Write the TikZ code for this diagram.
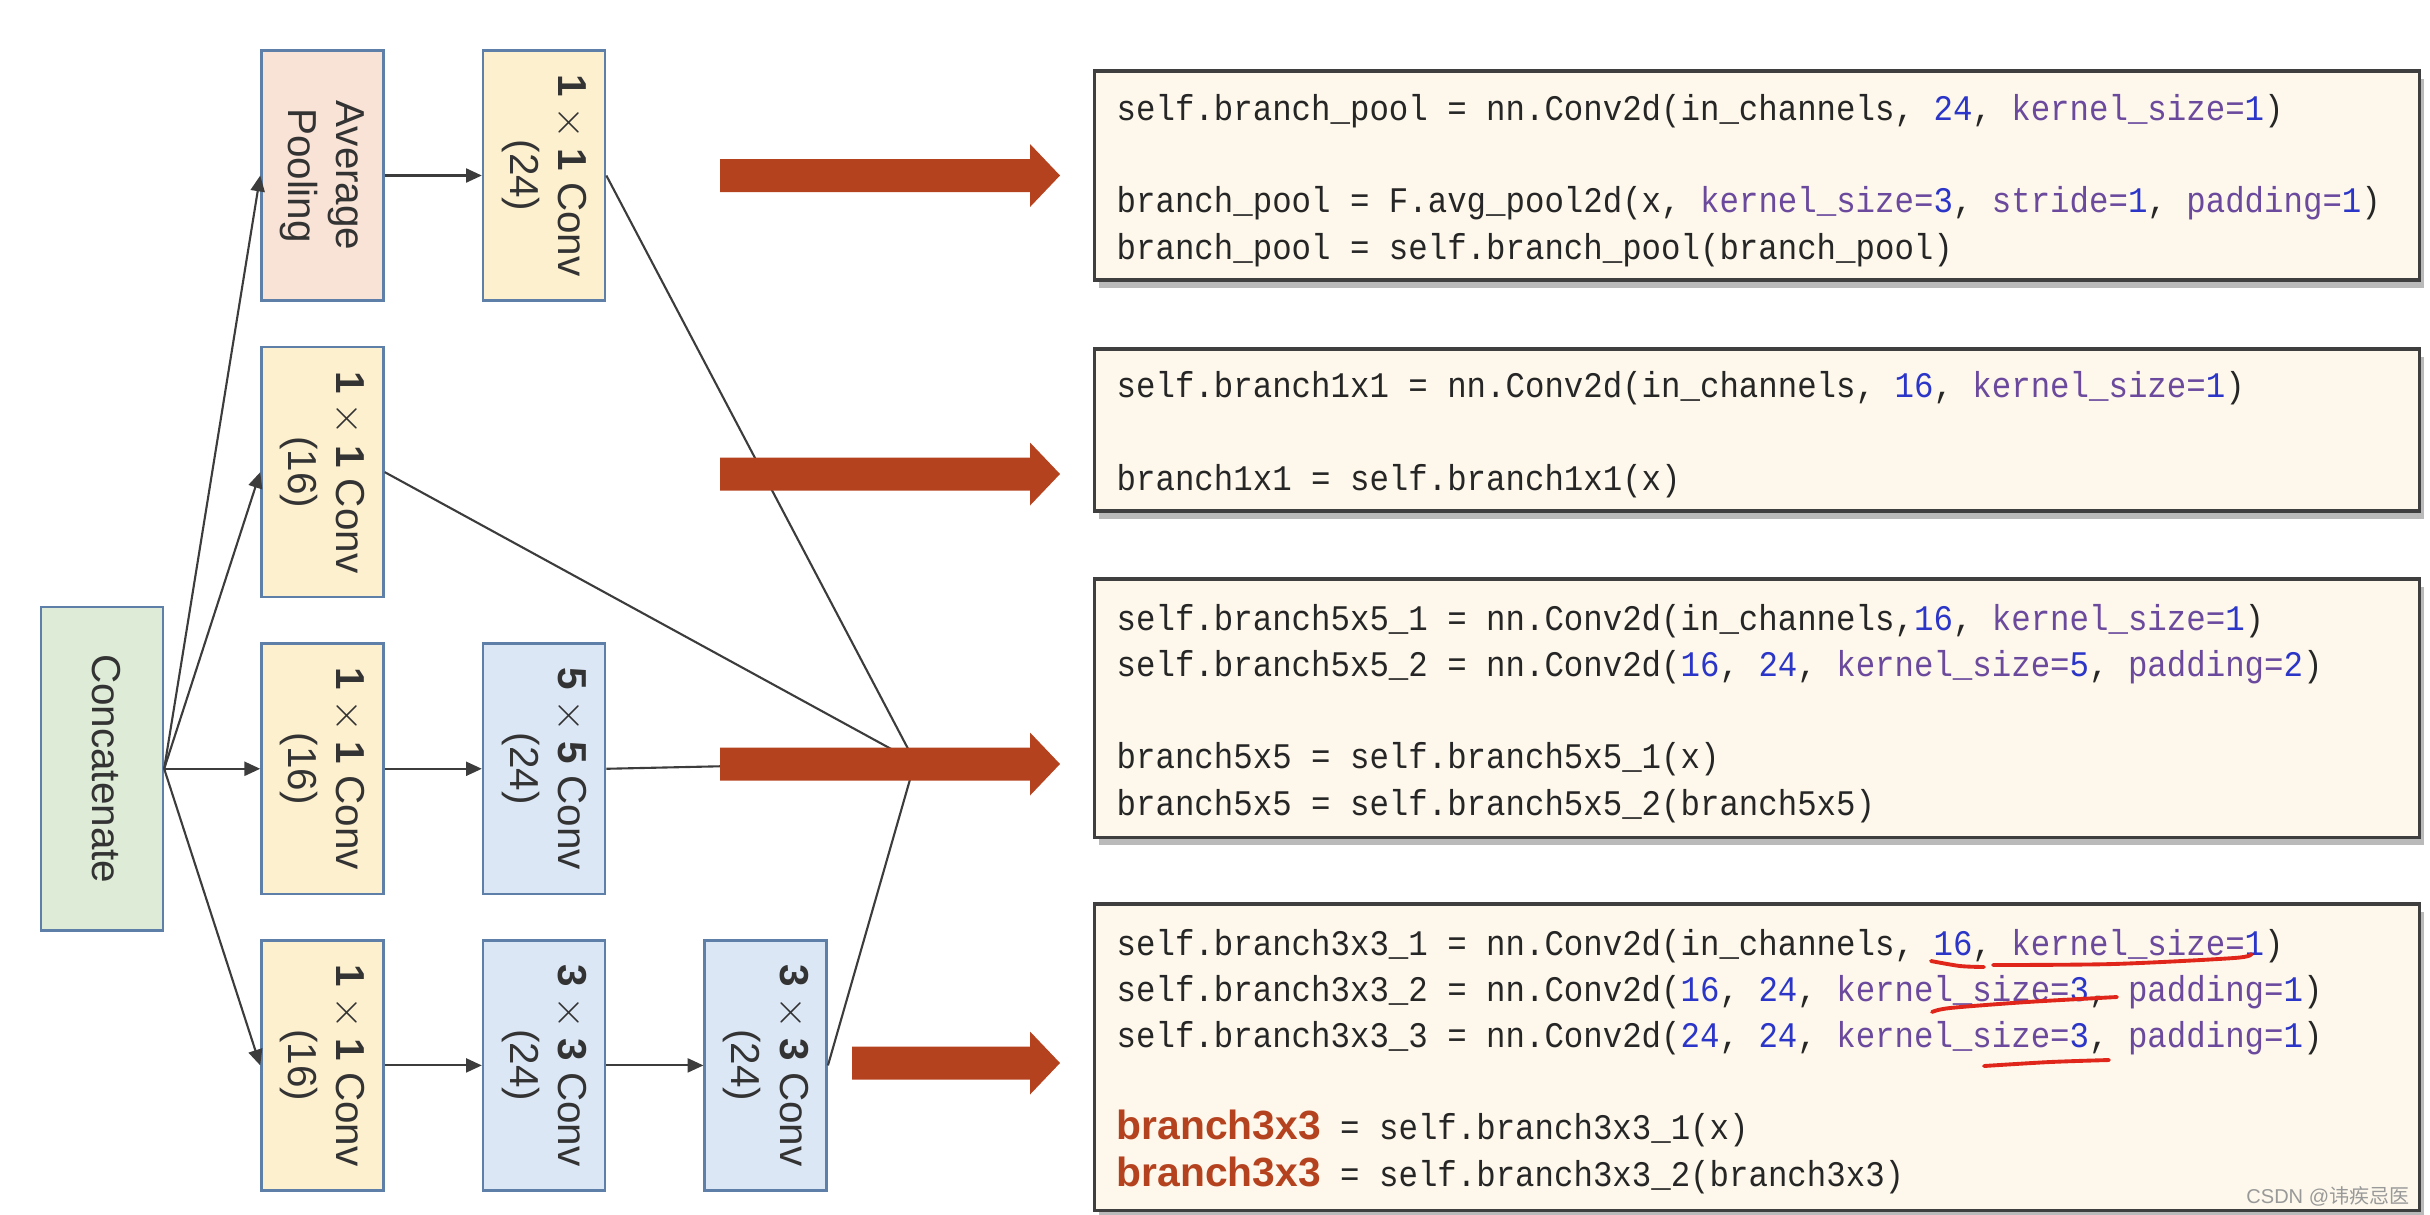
\documentclass[tikz,border=0pt]{standalone}
\usepackage{fontspec}
\setmainfont{Liberation Sans}
\setmonofont[FakeStretch=0.9]{Liberation Mono}
\newfontfamily\cjkfont{Noto Sans CJK SC}
\usetikzlibrary{positioning, arrows.meta, shadows}

\definecolor{boxline}{HTML}{5E7FA8}
\definecolor{poolfill}{HTML}{F9E3D6}
\definecolor{onefill}{HTML}{FDF0CF}
\definecolor{bigfill}{HTML}{DCE7F6}
\definecolor{catfill}{HTML}{DDEBD7}
\definecolor{labeltext}{HTML}{333333}
\definecolor{wire}{HTML}{3C3C3C}
\definecolor{bigred}{HTML}{B5421F}
\definecolor{codefill}{HTML}{FDF8EB}
\definecolor{codeline}{HTML}{3F3F3F}
\definecolor{codeblack}{HTML}{262626}
\definecolor{numblue}{HTML}{2B36C8}
\definecolor{kwpurple}{HTML}{6B4A9E}
\definecolor{scribble}{HTML}{E0261B}

\newcommand{\argnum}[1]{\textcolor{numblue}{#1}}
\newcommand{\argkw}[1]{\textcolor{kwpurple}{#1}}
\newcommand{\hlvar}[1]{{\fontsize{11.6}{13.09}\selectfont\rmfamily\bfseries\textcolor{bigred}{#1}}}
\newcommand{\vlabel}[1]{\rotatebox[origin=c]{-90}{\begin{tabular}{@{}c@{}}#1\end{tabular}}}

\begin{document}
\begin{tikzpicture}[x=0.01cm, y=-0.01cm,
    box/.style={draw=boxline, line width=0.7pt, minimum width=1.22cm, minimum height=2.5cm, inner sep=0pt,
        font=\fontsize{11.5}{13.7}\selectfont, text=labeltext},
    wireline/.style={draw=wire, line width=0.6pt},
    flow/.style={wireline, -{Triangle[length=4.5pt, width=4pt]}},
    codebox/.style={draw=codeline, line width=0.9pt, fill=codefill, minimum width=13.24cm,
        drop shadow={shadow xshift=1.2pt, shadow yshift=-2.3pt, opacity=0.45, fill=black!60}},
    codetext/.style={anchor=base west, inner sep=0pt, align=left,
        font=\fontsize{10.24}{13.09}\selectfont\ttfamily, text=codeblack}]
        \useasboundingbox (0,0) rectangle (2430,1214);

        % Inception branches
        \node[box, fill=poolfill] (pool) at (322.5,175.5) {\vlabel{Average\\Pooling}}; % pooling branch
        \node[box, fill=onefill, right=0.97cm of pool] (conv1) {\vlabel{$\mathbf{1}\times\mathbf{1}$ Conv\\(24)}};
        \node[box, fill=onefill, below=0.44cm of pool] (b1) {\vlabel{$\mathbf{1}\times\mathbf{1}$ Conv\\(16)}}; % 1x1 branch
        \node[box, fill=onefill, below=0.44cm of b1] (b5a) {\vlabel{$\mathbf{1}\times\mathbf{1}$ Conv\\(16)}}; % 5x5 branch
        \node[box, fill=bigfill, right=0.97cm of b5a] (b5b) {\vlabel{$\mathbf{5}\times\mathbf{5}$ Conv\\(24)}};
        \node[box, fill=onefill, below=0.44cm of b5a] (b3a) {\vlabel{$\mathbf{1}\times\mathbf{1}$ Conv\\(16)}}; % 3x3 branch
        \node[box, fill=bigfill, right=0.97cm of b3a] (b3b) {\vlabel{$\mathbf{3}\times\mathbf{3}$ Conv\\(24)}};
        \node[box, fill=bigfill, right=0.97cm of b3b] (b3c) {\vlabel{$\mathbf{3}\times\mathbf{3}$ Conv\\(24)}};
        \node[box, fill=catfill, minimum height=3.23cm, left=0.96cm of b5a] (concat) {\vlabel{Concatenate}};
        \coordinate (merge) at (915,762);

        \draw[flow] (concat.east) -- (pool.west);
        \draw[flow] (concat.east) -- (b1.west);
        \draw[flow] (concat.east) -- (b5a.west);
        \draw[flow] (concat.east) -- (b3a.west);
        \draw[flow] (pool) -- (conv1);
        \draw[flow] (b5a) -- (b5b);
        \draw[flow] (b3a) -- (b3b);
        \draw[flow] (b3b) -- (b3c);

        % outputs meet behind the third red arrow
        \foreach \n in {conv1, b1, b5b, b3c} {
            \draw[wireline] (\n.east) -- (merge);
        }

        % Red block arrows
        \foreach \s/\y in {720/175.5, 720/474, 720/764, 852/1063} {
            \fill[bigred] (\s,\y-16.5) -- (1030,\y-16.5) -- (1030,\y-31.5) -- (1060,\y)
                -- (1030,\y+31.5) -- (1030,\y+16.5) -- (\s,\y+16.5) -- cycle;
        }

        % Code boxes (text anchored at its last baseline)
        \node[codebox, minimum height=2.09cm] (poolcode) at (1757,175.5) {};
        \node[codebox, minimum height=1.62cm] (onecode) at (1757,430) {};
        \node[codebox, minimum height=2.58cm] (fivecode) at (1757,708) {};
        \node[codebox, minimum height=3.06cm] (threecode) at (1757,1057) {};

        \node[codetext] (pooltext) at (1116,259) {self.branch\_pool = nn.Conv2d(in\_channels, \argnum{24}, \argkw{kernel\_size=}\argnum{1})\\{}\\
            branch\_pool = F.avg\_pool2d(x, \argkw{kernel\_size=}\argnum{3}, \argkw{stride=}\argnum{1}, \argkw{padding=}\argnum{1})\\
            branch\_pool = self.branch\_pool(branch\_pool)};
        \node[codetext] (onetext) at (1116,490) {self.branch1x1 = nn.Conv2d(in\_channels, \argnum{16}, \argkw{kernel\_size=}\argnum{1})\\{}\\
            branch1x1 = self.branch1x1(x)};
        \node[codetext] (fivetext) at (1116,815) {self.branch5x5\_1 = nn.Conv2d(in\_channels,\argnum{16}, \argkw{kernel\_size=}\argnum{1})\\
            self.branch5x5\_2 = nn.Conv2d(\argnum{16}, \argnum{24}, \argkw{kernel\_size=}\argnum{5}, \argkw{padding=}\argnum{2})\\{}\\
            branch5x5 = self.branch5x5\_1(x)\\
            branch5x5 = self.branch5x5\_2(branch5x5)};
        \node[codetext] (threetext) at (1116,1186) {self.branch3x3\_1 = nn.Conv2d(in\_channels, \argnum{16}, \argkw{kernel\_size=}\argnum{1})\\
            self.branch3x3\_2 = nn.Conv2d(\argnum{16}, \argnum{24}, \argkw{kernel\_size=}\argnum{3}, \argkw{padding=}\argnum{1})\\
            self.branch3x3\_3 = nn.Conv2d(\argnum{24}, \argnum{24}, \argkw{kernel\_size=}\argnum{3}, \argkw{padding=}\argnum{1})\\{}\\
            \hlvar{branch3x3} = self.branch3x3\_1(x)\\
            \hlvar{branch3x3} = self.branch3x3\_2(branch3x3)};

        % hand-drawn underlines
        \draw[scribble, line width=1.1pt, line cap=round] plot[smooth] coordinates {(1931,961) (1960,966) (1984,967)};
        \draw[scribble, line width=1.1pt, line cap=round] plot[smooth] coordinates {(1993,965) (2113,964) (2234,958) (2251,954)};
        \draw[scribble, line width=1.1pt, line cap=round] plot[smooth] coordinates {(1932,1012) (1950,1008) (2027,1002) (2117,997)};
        \draw[scribble, line width=1.1pt, line cap=round] plot[smooth] coordinates {(1984,1066) (2050,1062) (2109,1060)};

        \node[anchor=east, inner sep=0pt, font=\fontsize{5.7}{6}\selectfont, text=black!40] (mark) at (2410,1196) {CSDN @{\cjkfont 讳疾忌医}};
\end{tikzpicture}
\end{document}
